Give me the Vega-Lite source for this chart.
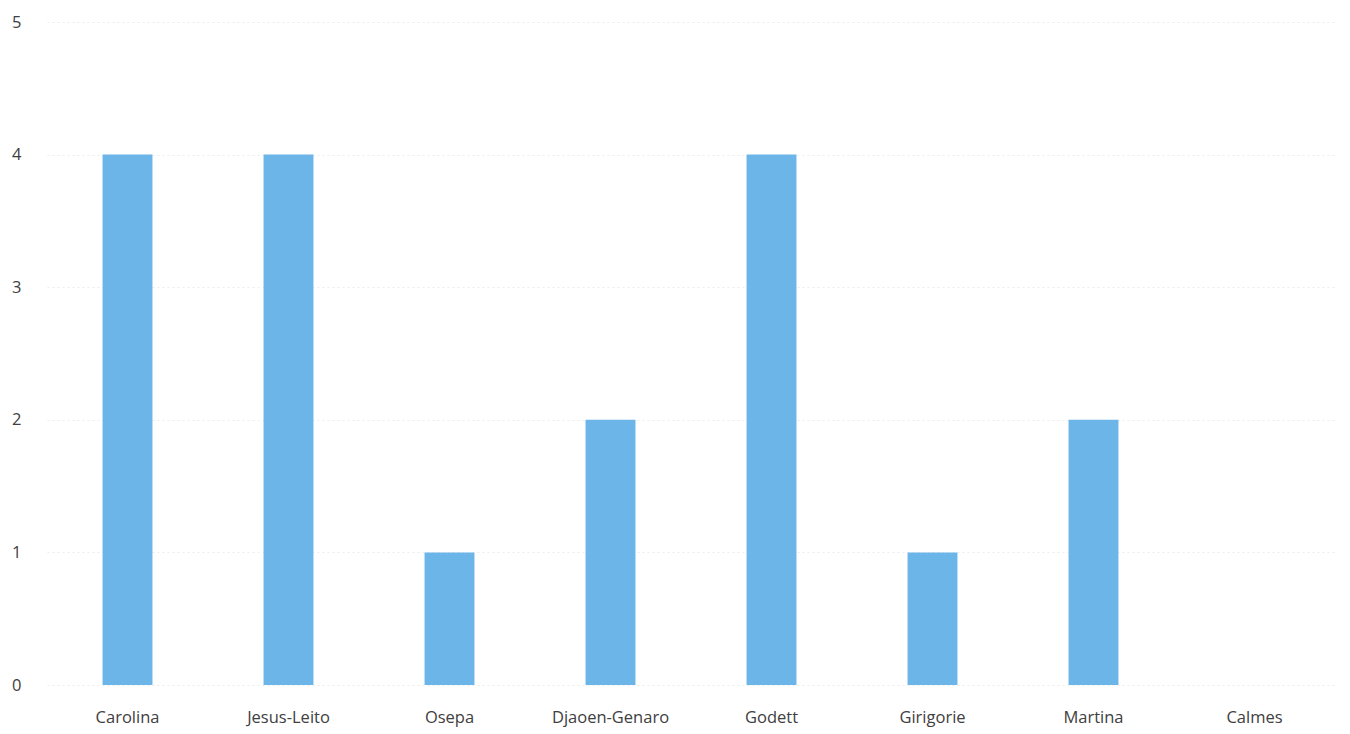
{
  "$schema": "https://vega.github.io/schema/vega-lite/v6.json",
  "width": 1288,
  "height": 663,
  "autosize": {"type": "none"},
  "padding": {"left": 47, "top": 22, "right": 15, "bottom": 49},
  "background": "white",
  "config": {
    "view": {"stroke": null},
    "font": "Open Sans"
  },
  "data": {
    "values": [
      {"name": "Carolina", "value": 4},
      {"name": "Jesus-Leito", "value": 4},
      {"name": "Osepa", "value": 1},
      {"name": "Djaoen-Genaro", "value": 2},
      {"name": "Godett", "value": 4},
      {"name": "Girigorie", "value": 1},
      {"name": "Martina", "value": 2},
      {"name": "Calmes", "value": 0}
    ]
  },
  "mark": {"type": "bar", "color": "#6bb5e9"},
  "encoding": {
    "x": {
      "field": "name",
      "type": "nominal",
      "sort": null,
      "scale": {"paddingInner": 0.69, "paddingOuter": 0.345},
      "axis": {"title": null, "labelAngle": 0, "labelPadding": 24, "grid": false, "domain": false, "ticks": false, "labelFont": "Open Sans", "labelFontSize": 16.5, "labelColor": "#404040", "labelOverlap": false}
    },
    "y": {
      "field": "value",
      "type": "quantitative",
      "scale": {"domain": [0, 5], "nice": false},
      "axis": {"title": null, "values": [0, 1, 2, 3, 4, 5], "labelPadding": 26, "grid": true, "gridColor": "#ececec", "gridDash": [2, 3], "gridWidth": 1, "domain": false, "ticks": false, "labelFont": "Open Sans", "labelFontSize": 16.5, "labelColor": "#404040", "labelOverlap": false, "labelFlush": false, "labelBound": false}
    }
  }
}
